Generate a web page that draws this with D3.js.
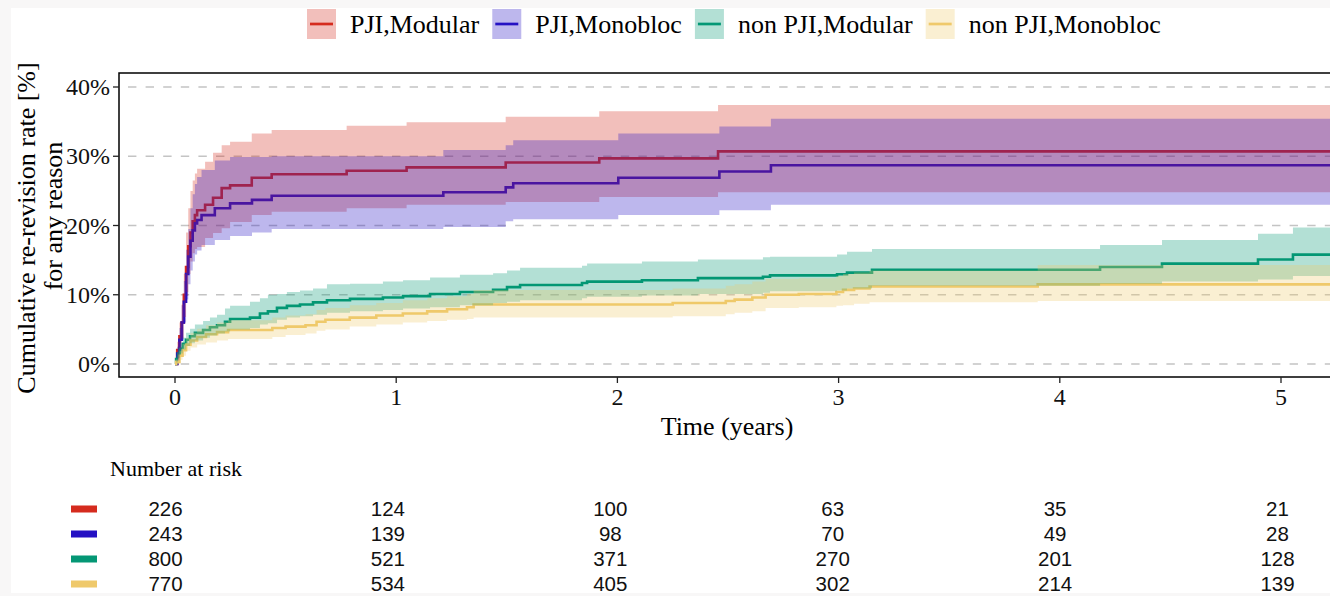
<!DOCTYPE html>
<html>
<head>
<meta charset="utf-8">
<script src="https://cdn.jsdelivr.net/npm/d3@7"></script>
<style>
  body { margin: 0; background: #f8f7f7; }
  svg { display: block; }
</style>
</head>
<body>
<svg id="chart" width="1330" height="596"></svg>
<script>
// groups, colours and the number-at-risk table
var groups = ["PJI,Modular", "PJI,Monobloc", "non PJI,Modular", "non PJI,Monobloc"];
var colors = ["#d52b1e", "#2411c3", "#049775", "#efc96b"];
var riskYears = [0, 1, 2, 3, 4, 5];
var riskPjiMod = [226, 124, 100, 63, 35, 21];
var riskPjiMono = [243, 139, 98, 70, 49, 28];
var riskNonMod = [800, 521, 371, 270, 201, 128];
var riskNonMono = [770, 534, 405, 302, 214, 139];
var yTicks = [0, 10, 20, 30, 40];

// cumulative incidence (%): time, estimate, lower, upper
var pjiModTime = [0,0.01,0.02,0.03,0.04,0.05,0.06,0.07,0.08,0.09,0.10,0.136,0.172,0.211,0.249,0.347,0.437,0.776,1.047,1.495,1.918,2.455];
var pjiModEst  = [0,2,4,6,10,14,17,19,20.6,21.5,22.2,23.0,24.0,25.4,25.8,26.9,27.4,27.9,28.4,29.1,29.7,30.7];
var pjiModLow  = [0,0.8,2.2,3.7,6.8,10.4,13,14.8,16.0,16.6,16.9,18.2,18.9,19.6,20.5,21.5,22.0,22.5,23.0,23.4,24.1,24.8];
var pjiModUp   = [0,3.2,6,8.6,13,19,22.5,25,26.5,27.5,28.2,29.2,30.5,31.6,32.1,33.3,33.8,34.4,34.9,35.7,36.5,37.4];

var pjiMonoTime = [0,0.01,0.02,0.03,0.04,0.05,0.06,0.07,0.08,0.09,0.10,0.12,0.18,0.249,0.348,0.437,1.213,1.495,1.529,2.004,2.461,2.694];
var pjiMonoEst  = [0,1.5,3.5,6,9,13,15.5,17.8,19.3,20.3,20.8,21.5,22.5,23.2,23.7,24.3,24.8,25.5,26.1,26.9,27.8,28.7];
var pjiMonoLow  = [0,0.5,1.8,3.5,6,9.3,11.5,13.5,14.8,15.8,16.4,17.2,17.9,18.5,19.0,19.5,19.8,20.6,20.9,21.5,22.2,23.0];
var pjiMonoUp   = [0,2.5,5.2,8.5,12,16.5,19.5,22.5,24.5,26,27,28,29.4,29.9,29.9,30.0,30.9,31.6,32.3,33.3,34.3,35.4];

var nonModTime = [0,0.005,0.014,0.023,0.036,0.05,0.068,0.09,0.127,0.158,0.19,0.226,0.249,0.339,0.384,0.42,0.461,0.506,0.565,0.624,0.687,0.791,0.94,1.031,1.153,1.288,1.438,1.501,1.56,1.84,1.863,2.111,2.364,2.658,2.69,2.993,3.038,3.151,4.182,4.462,4.896,5.054];
var nonModEst  = [0,0.7,1.5,2.2,2.9,3.5,4.0,4.5,4.9,5.3,5.6,6.1,6.5,6.7,7.3,7.6,8.1,8.4,8.6,8.9,9.2,9.4,9.6,9.8,10.1,10.4,10.7,11.1,11.4,11.7,11.9,12.1,12.4,12.6,12.8,12.95,13.2,13.6,14.0,14.5,15.1,15.8];
var nonModLow  = [0,0.2,0.9,1.5,2.1,2.6,3.0,3.4,3.8,4.1,4.4,4.7,5.0,5.2,5.7,5.9,6.4,6.7,6.9,7.1,7.4,7.6,7.8,8.0,8.2,8.5,8.8,9.0,9.2,9.5,9.7,9.9,10.1,10.3,10.5,10.6,10.9,11.3,11.6,11.9,12.2,12.7];
var nonModUp   = [0,1.2,2.2,3.0,3.8,4.5,5.1,5.7,6.2,6.7,7.1,8.0,8.4,9.0,9.5,10.0,10.1,10.4,10.6,10.9,11.5,11.6,11.9,12.1,12.5,12.9,13.1,13.5,13.9,14.2,14.5,14.8,15.1,15.4,15.5,15.8,16.2,16.6,17.2,17.9,18.8,19.7];

var nonMonoTime = [0,0.005,0.02,0.034,0.05,0.07,0.1,0.14,0.19,0.24,0.44,0.5,0.59,0.64,0.68,0.79,0.91,1.03,1.14,1.23,1.32,1.35,2.25,2.49,2.53,2.61,2.67,2.82,2.99,3.02,3.07,3.14,3.9];
var nonMonoEst  = [0,0.3,1.2,2.0,2.8,3.4,3.9,4.3,4.6,4.9,5.2,5.4,5.6,6.1,6.4,6.7,7.0,7.3,7.6,7.9,8.2,8.6,8.8,9.1,9.3,9.6,10.0,10.1,10.4,10.7,10.9,11.2,11.5];
var nonMonoLow  = [0,0,0.6,1.2,1.9,2.4,2.8,3.1,3.4,3.6,3.9,4.2,4.4,4.8,5.0,5.4,5.7,6.0,6.2,6.4,6.5,6.7,6.9,7.2,7.4,7.6,8.1,8.2,8.4,8.5,8.7,8.9,9.1];
var nonMonoUp   = [0,0.7,1.9,2.9,3.8,4.5,5.1,5.6,6.0,6.3,6.7,7.0,7.2,7.8,8.1,8.5,8.8,9.2,9.5,9.8,10.1,10.7,10.9,11.3,11.5,11.9,12.3,12.4,12.7,13.0,13.2,13.5,14.3];

var serif = "'Liberation Serif', 'Times New Roman', serif";
var sans = "'Liberation Sans', Arial, sans-serif";

function makeSeries(t, est, lo, up) {
  var pts = t.map(function(d, i) {
    return {t: d, est: est[i], lo: lo[i], up: up[i]};
  });
  var last = pts[pts.length - 1];
  pts.push({t: 5.4, est: last.est, lo: last.lo, up: last.up});
  return pts;
}

var series = [
  makeSeries(pjiModTime, pjiModEst, pjiModLow, pjiModUp),
  makeSeries(pjiMonoTime, pjiMonoEst, pjiMonoLow, pjiMonoUp),
  makeSeries(nonModTime, nonModEst, nonModLow, nonModUp),
  makeSeries(nonMonoTime, nonMonoEst, nonMonoLow, nonMonoUp)
];
var risks = [riskPjiMod, riskPjiMono, riskNonMod, riskNonMono];

var svg = d3.select("#chart");
svg.append("rect")
  .attr("x", 11).attr("y", 8)
  .attr("width", 1319).attr("height", 585)
  .attr("fill", "#ffffff");

var panel = {left: 119, top: 73, bottom: 377, right: 1330};

var x = d3.scaleLinear().domain([0, 5]).range([175, 1281]);
var y = d3.scaleLinear().domain([0, 40]).range([364, 87]);
var xTable = d3.scaleLinear().domain([0, 5]).range([165.5, 1277.5]);

svg.append("clipPath").attr("id", "clip")
  .append("rect")
  .attr("x", panel.left).attr("y", panel.top)
  .attr("width", panel.right - panel.left + 10)
  .attr("height", panel.bottom - panel.top);

// dashed horizontal grid
svg.append("g").selectAll("line")
  .data(yTicks)
  .enter().append("line")
    .attr("x1", 128).attr("x2", panel.right)
    .attr("y1", function(d) { return y(d); })
    .attr("y2", function(d) { return y(d); })
    .attr("stroke", "#c4c4c4")
    .attr("stroke-width", 1.6)
    .attr("stroke-dasharray", "8.4,9.2");

var plot = svg.append("g").attr("clip-path", "url(#clip)");

var line = d3.line()
  .curve(d3.curveStepAfter)
  .x(function(d) { return x(d.t); })
  .y(function(d) { return y(d.est); });

var band = d3.area()
  .curve(d3.curveStepAfter)
  .x(function(d) { return x(d.t); })
  .y0(function(d) { return y(d.lo); })
  .y1(function(d) { return y(d.up); });

// lines first, ribbons on top (as in the original)
plot.selectAll(".km")
  .data(series)
  .enter().append("path")
    .classed("km", true)
    .attr("d", line)
    .attr("fill", "none")
    .attr("stroke", function(d, i) { return colors[i]; })
    .attr("stroke-width", 2.6);

plot.selectAll(".ci")
  .data(series)
  .enter().append("path")
    .classed("ci", true)
    .attr("d", band)
    .attr("fill", function(d, i) { return colors[i]; })
    .attr("fill-opacity", 0.3)
    .attr("stroke", "none");

// panel border (open on the right, cut by the window)
svg.append("path")
  .attr("d", "M" + (panel.right + 5) + "," + panel.top + "H" + panel.left + "V" + panel.bottom + "H" + (panel.right + 5))
  .attr("fill", "none")
  .attr("stroke", "#000")
  .attr("stroke-width", 1.5);

// y axis
var yAxis = svg.append("g");
yAxis.selectAll("line")
  .data(yTicks)
  .enter().append("line")
    .attr("x1", 113).attr("x2", panel.left)
    .attr("y1", function(d) { return y(d); })
    .attr("y2", function(d) { return y(d); })
    .attr("stroke", "#222").attr("stroke-width", 1.3);
yAxis.selectAll("text")
  .data(yTicks)
  .enter().append("text")
    .attr("x", 110)
    .attr("y", function(d) { return y(d); })
    .attr("dy", "0.34em")
    .attr("text-anchor", "end")
    .style("font-family", serif)
    .style("font-size", "24px")
    .attr("fill", "#111")
    .text(function(d) { return d + "%"; });

// x axis
var xAxis = svg.append("g");
xAxis.selectAll("line")
  .data(riskYears)
  .enter().append("line")
    .attr("x1", function(d) { return x(d); })
    .attr("x2", function(d) { return x(d); })
    .attr("y1", panel.bottom).attr("y2", 383)
    .attr("stroke", "#222").attr("stroke-width", 1.3);
xAxis.selectAll("text")
  .data(riskYears)
  .enter().append("text")
    .attr("x", function(d) { return x(d); })
    .attr("y", 405)
    .attr("text-anchor", "middle")
    .style("font-family", serif)
    .style("font-size", "24px")
    .attr("fill", "#111")
    .text(function(d) { return d; });

svg.append("text")
  .attr("x", 727).attr("y", 435)
  .attr("text-anchor", "middle")
  .style("font-family", serif)
  .style("font-size", "26px")
  .text("Time (years)");

svg.append("text")
  .attr("transform", "translate(35,228) rotate(-90)")
  .attr("text-anchor", "middle")
  .style("font-family", serif)
  .style("font-size", "26px")
  .text("Cumulative re-revision rate [%]");
svg.append("text")
  .attr("transform", "translate(62,216) rotate(-90)")
  .attr("text-anchor", "middle")
  .style("font-family", serif)
  .style("font-size", "26px")
  .text("for any reason");

// legend on top
var legend = svg.append("g");
var lx = 307;
groups.forEach(function(name, i) {
  var g = legend.append("g").attr("transform", "translate(" + lx + ",9)");
  g.append("rect")
    .attr("width", 29).attr("height", 30)
    .attr("fill", colors[i]).attr("fill-opacity", 0.3);
  g.append("line")
    .attr("x1", 3).attr("x2", 26)
    .attr("y1", 15).attr("y2", 15)
    .attr("stroke", colors[i]).attr("stroke-width", 2.7);
  var t = g.append("text")
    .attr("x", 43).attr("y", 24)
    .style("font-family", serif)
    .style("font-size", "26px")
    .text(name);
  lx += 43 + t.node().getComputedTextLength() + 13;
});

// number at risk table
svg.append("text")
  .attr("x", 110).attr("y", 476)
  .style("font-family", serif)
  .style("font-size", "22px")
  .text("Number at risk");

var rowY = [509, 534, 559, 584];
risks.forEach(function(row, i) {
  svg.append("rect")
    .attr("x", 71).attr("y", rowY[i] - 3.5)
    .attr("width", 26).attr("height", 7)
    .attr("fill", colors[i]);
  svg.append("g").selectAll("text")
    .data(row)
    .enter().append("text")
      .attr("x", function(d, j) { return xTable(riskYears[j]); })
      .attr("y", rowY[i])
      .attr("dy", "0.36em")
      .attr("text-anchor", "middle")
      .style("font-family", sans)
      .style("font-size", "20.5px")
      .attr("fill", "#111")
      .text(function(d) { return d; });
});
</script>
</body>
</html>
